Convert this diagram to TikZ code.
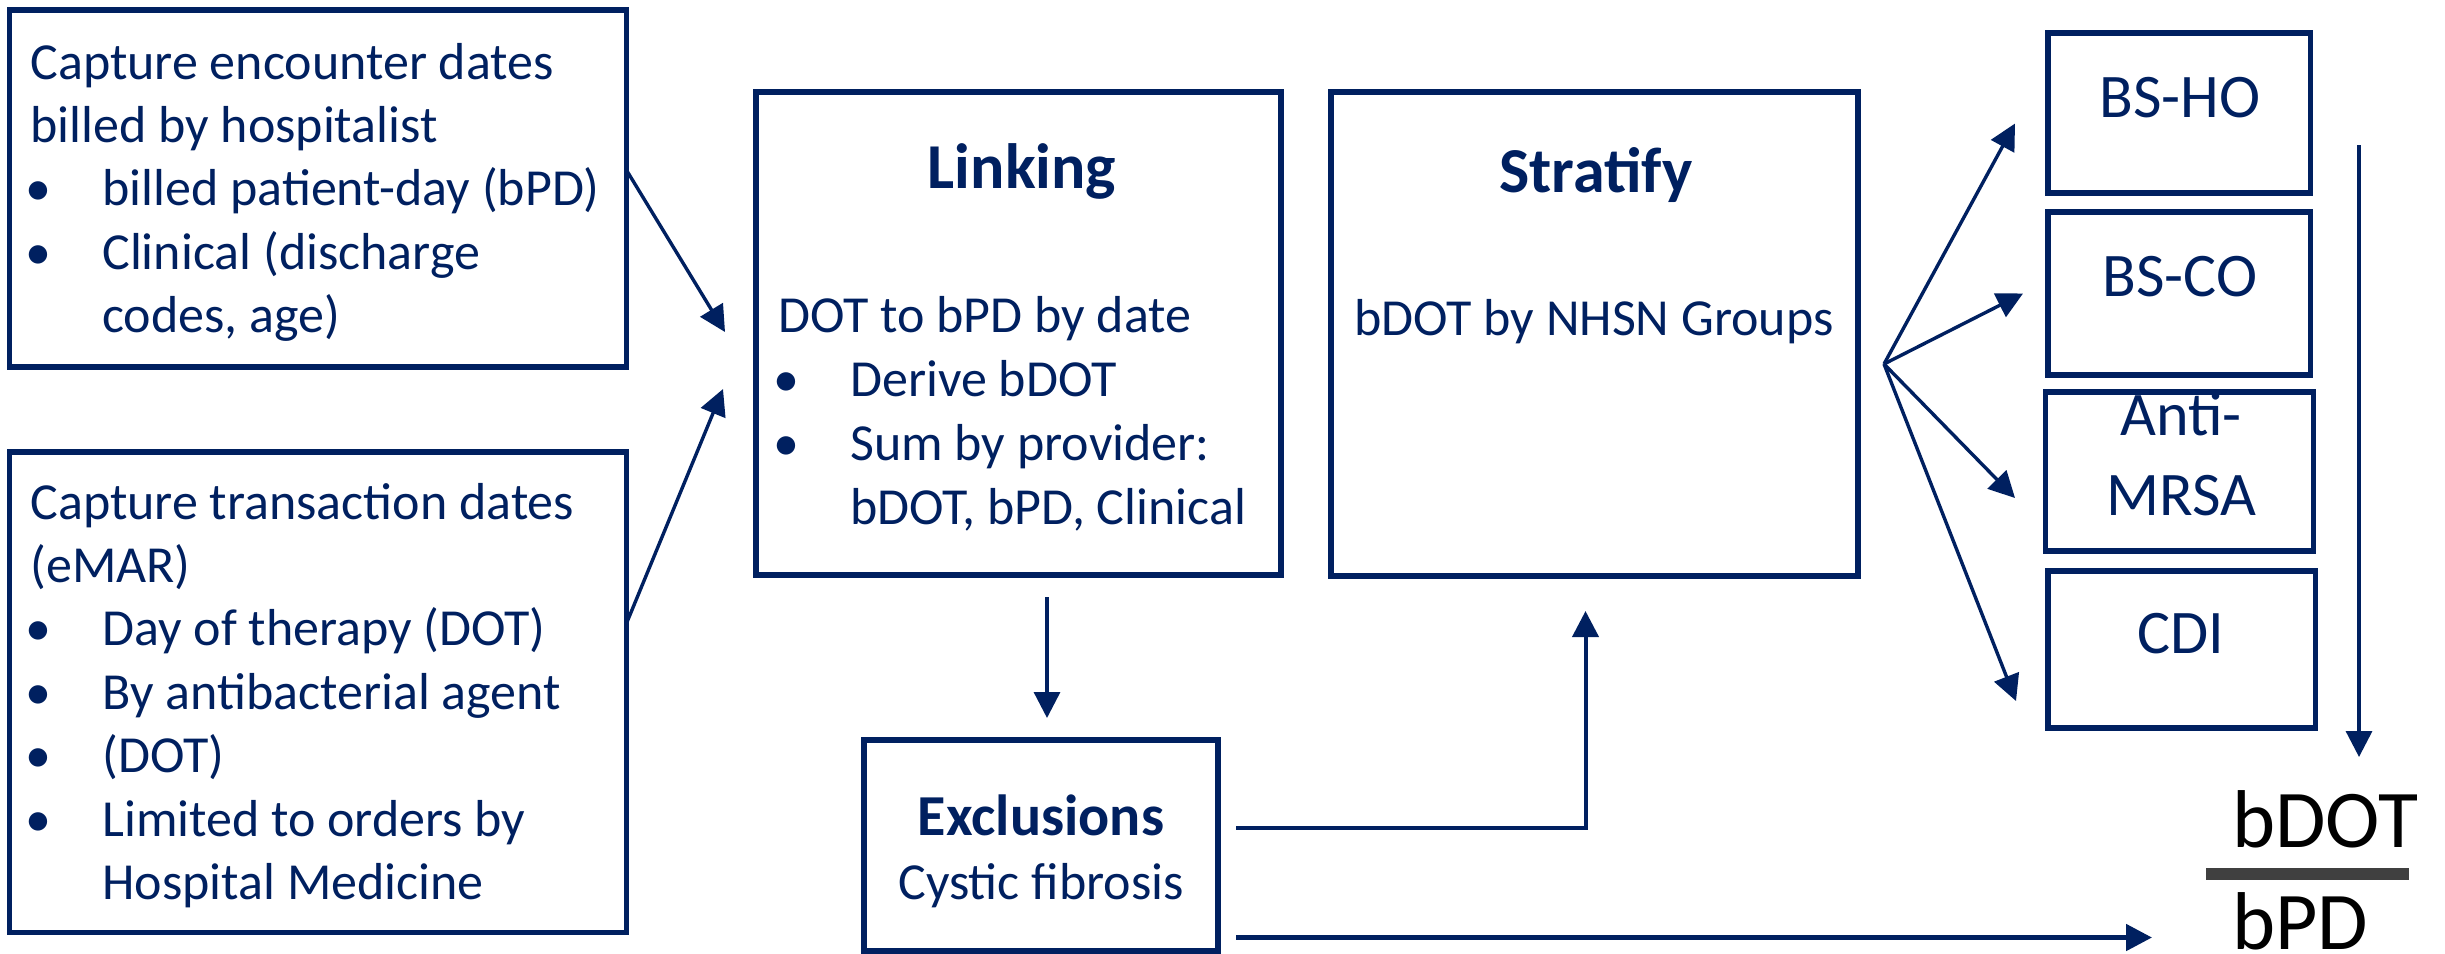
\documentclass[tikz,border=0pt]{standalone}
\usepackage{fontspec}
\setmainfont{Carlito}
\usetikzlibrary{arrows.meta}
\definecolor{navy}{HTML}{002060}
\definecolor{bargray}{HTML}{404040}
\newcommand\bitem[1]{\makebox[36pt][l]{\hspace*{-2.5pt}\textbullet}#1}
\newcommand\bmore[1]{\hspace*{36pt}#1}
\begin{document}
\begin{tikzpicture}[x=0.5pt,y=-0.5pt,
    box/.style={draw=navy, line width=2.8pt, outer sep=0pt, inner sep=0pt, anchor=north west},
    body/.style={navy, inner sep=0pt, align=left, anchor=base west, font=\fontsize{26}{31.7}\selectfont},
    title/.style={navy, inner sep=0pt, anchor=base, font=\fontsize{32}{38}\selectfont\bfseries},
    grp/.style={navy, inner sep=0pt, anchor=base, align=center, font=\fontsize{31}{40}\selectfont},
    frac/.style={black, inner sep=0pt, anchor=base west, font=\fontsize{41}{49}\selectfont},
    arr/.style={navy, line width=1.7pt, -{Triangle[length=13pt,width=13pt]}}]
\useasboundingbox (0,0) rectangle (2445,953);
% boxes
\node [box, minimum width=308.5pt, minimum height=178.5pt] (enc) at (9.5,9.7) {};
\node [box, minimum width=308.5pt, minimum height=240.25pt] (trn) at (9.5,452) {};
\node [box, minimum width=262.5pt, minimum height=241.5pt] (link) at (756,92) {};
\node [box, minimum width=263.5pt, minimum height=242pt] (strat) at (1331,92) {};
\node [box, minimum width=177pt, minimum height=105.5pt] (excl) at (864,740) {};
\node [box, minimum width=131.25pt, minimum height=80pt] (bsho) at (2048,33) {};
\node [box, minimum width=131.25pt, minimum height=81.5pt] (bsco) at (2048,212) {};
\node [box, minimum width=134pt, minimum height=79.5pt] (mrsa) at (2045.5,392) {};
\node [box, minimum width=133.75pt, minimum height=78.5pt] (cdi) at (2048,571) {};
% texts (multi-line nodes sit on their last baseline)
\node [body] (enctxt) at (30,332.6) {Capture encounter dates\\billed by hospitalist\\
    \bitem{billed patient-day (bPD)}\\\bitem{Clinical (discharge}\\\bmore{codes, age)}};
\node [body] (trntxt) at (30,899.4) {Capture transaction dates\\(eMAR)\\
    \bitem{Day of therapy (DOT)}\\\bitem{By antibacterial agent}\\\bitem{(DOT)}\\
    \bitem{Limited to orders by}\\\bmore{Hospital Medicine}};
\node [title] (linktitle) at (1022,188) {Linking};
\node [body, font=\fontsize{26}{32}\selectfont] (linktxt) at (778,524) {DOT to bPD by date\\
    \bitem{Derive bDOT}\\\bitem{Sum by provider:}\\\bmore{bDOT, bPD, Clinical}};
\node [title] (strattitle) at (1596,192) {Stratify};
\node [body, anchor=base] (strattxt) at (1594,335) {bDOT by NHSN Groups};
\node [title, font=\fontsize{29}{35}\selectfont\bfseries] (excltitle) at (1041,835) {Exclusions};
\node [body, anchor=base] (excltxt) at (1041,899) {Cystic fibrosis};
\node [grp] (bshotxt) at (2180,117) {BS-HO};
\node [grp] (bscotxt) at (2180,296) {BS-CO};
\node [grp] (mrsatxt) at (2181,515) {Anti-\\MRSA};
\node [grp] (cditxt) at (2181,653) {CDI};
\node [frac] (bdot) at (2232,847) {bDOT};
\node [frac] (bpd) at (2232,949) {bPD};
\draw [bargray, line width=6pt] (2206,874) -- (2409,874);
% arrows
\coordinate (encin) at (725,332);
\coordinate (trnin) at (723,389);
\coordinate (fracin) at (2152,937);
\coordinate (rtop) at (2359,145);
\coordinate (rbot) at (2359,757);
\draw [arr] ([yshift=9pt]enc.east) -- (encin);
\draw [arr] ([yshift=34.5pt]trn.east) -- (trnin);
\draw [arr] ([xshift=3pt,yshift=-11pt]excl.north |- link.south) -- ([xshift=3pt,yshift=11pt]excl.north);
\draw [arr, line width=2pt] ([shift={(9pt,9pt)}]excl.east) -| ([shift={(-4.5pt,-17.5pt)}]strat.south);
\draw [arr, line width=2.5pt] ([shift={(9pt,-46pt)}]excl.east) coordinate (exlow) -- (exlow -| fracin);
\coordinate (fan) at ([shift={(13pt,-15pt)}]strat.east);
\draw [arr] (fan) -- ([shift={(-16.5pt,-5.25pt)}]bsho.west);
\draw [arr] (fan) -- ([shift={(-12.5pt,0pt)}]bsco.west);
\draw [arr] (fan) -- ([shift={(-15.25pt,-13.25pt)}]mrsa.west);
\draw [arr] (fan) -- ([shift={(-16pt,-25.75pt)}]cdi.west);
\draw [arr] (rtop) -- (rbot);
\end{tikzpicture}
\end{document}
